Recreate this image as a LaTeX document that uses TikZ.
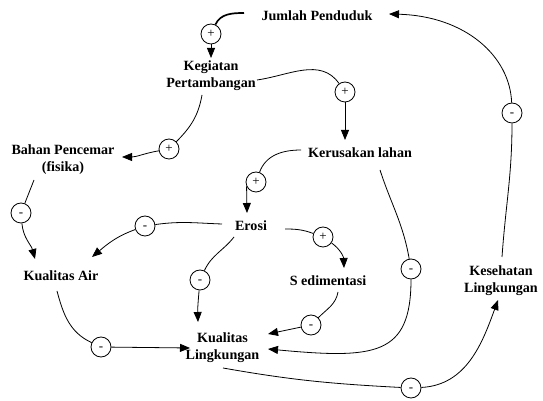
\documentclass[tikz,border=0pt]{standalone}
\usepackage{fontspec}
\setmainfont{Liberation Serif}
\usetikzlibrary{arrows.meta}
\begin{document}
\begin{tikzpicture}[x=1pt,y=1pt,
  lbl/.style={font=\bfseries\fontsize{14.1}{17}\selectfont, align=center, inner sep=2pt},
  pol/.style={circle, draw, line width=0.8pt, minimum size=20pt, inner sep=0pt,
              font=\fontsize{13}{13}\selectfont},
  link/.style={line width=0.8pt},
  arr/.style={line width=0.8pt, -{Triangle[length=10pt,width=8pt]}},
  thicklink/.style={line width=1.7pt}]
\useasboundingbox (0,0) rectangle (543,401);

% variables
\node[lbl] (jp)  at (317,385)   {Jumlah Penduduk};
\node[lbl] (kp)  at (211,325)   {Kegiatan\\Pertambangan};
\node[lbl] (bp)  at (63,241)    {Bahan Pencemar\\(fisika)};
\node[lbl] (kl)  at (360,248)   {Kerusakan lahan};
\node[lbl] (er)  at (251,175)   {Erosi};
\node[lbl] (ka)  at (61,125)    {Kualitas Air};
\node[lbl] (sd)  at (328,120)   {S edimentasi};
\node[lbl] (klg) at (222.5,53)  {Kualitas\\Lingkungan};
\node[lbl] (ks)  at (501,120)   {Kesehatan\\Lingkungan};

% link polarities
\node[pol] (p1) at (211,367) {+};
\node[pol] (p2) at (345,309) {+};
\node[pol] (p3) at (169,252) {+};
\node[pol] (p4) at (256,219) {+};
\node[pol] (p5) at (323,164) {+};
\node[pol] (m1) at (21,188)  {\vphantom{+}-};
\node[pol] (m2) at (145,175) {\vphantom{+}-};
\node[pol] (m3) at (200,121) {\vphantom{+}-};
\node[pol] (m4) at (311,76)  {\vphantom{+}-};
\node[pol] (m5) at (411,132) {\vphantom{+}-};
\node[pol] (m6) at (101,54)  {\vphantom{+}-};
\node[pol] (m7) at (411,13)  {\vphantom{+}-};
\node[pol] (m8) at (512,288) {\vphantom{+}-};

% Jumlah Penduduk -> Kegiatan Pertambangan
\draw[thicklink] ([shift={(-73,3)}]jp.center) to[out=180,in=65] (p1);
\draw[arr] (p1) -- ([shift={(0,18)}]kp.center);

% Kegiatan Pertambangan -> Kerusakan lahan
\draw[link] ([shift={(46,-4)}]kp.center) to[out=8,in=125] (p2);
\draw[arr] (p2) -- ([shift={(-15,13)}]kl.center);

% Kegiatan Pertambangan -> Bahan Pencemar
\draw[link] ([shift={(-9,-19)}]kp.center) to[out=-100,in=45] (p3);
\draw[arr] (p3) to[out=190,in=0] ([shift={(59,3)}]bp.center);

% Kerusakan lahan -> Erosi
\draw[link] ([shift={(-59,3)}]kl.center) to[out=180,in=70] (p4);
\draw[arr] (p4.205) -- ([shift={(-4,13)}]er.center);

% Kerusakan lahan -> Kualitas Lingkungan
\draw[link] ([shift={(20,-17)}]kl.center) to[out=-72,in=100] (m5);
\draw[arr] (m5) .. controls (411,45) and (375,42) .. ([shift={(45.5,-1)}]klg.center);

% Erosi -> Kualitas Air
\draw[link] ([shift={(-29,2)}]er.center) to[out=178,in=8] (m2);
\draw[arr] (m2) to[out=200,in=40] ([shift={(31,19)}]ka.center);

% Erosi -> Kualitas Lingkungan
\draw[link] ([shift={(-17,-11)}]er.center) to[out=-128,in=65] (m3);
\draw[arr] (m3) to[out=-95,in=92] ([shift={(-24.5,26)}]klg.center);

% Erosi -> Sedimentasi
\draw[link] ([shift={(34,-3)}]er.center) to[out=0,in=160] (p5);
\draw[arr] (p5) to[out=-35,in=92] ([shift={(16,13)}]sd.center);

% Sedimentasi -> Kualitas Lingkungan
\draw[link] ([shift={(10,-11)}]sd.center) to[out=-100,in=45] (m4);
\draw[arr] (m4) -- ([shift={(45.5,14)}]klg.center);

% Bahan Pencemar -> Kualitas Air
\draw[link] ([shift={(-29,-20)}]bp.center) -- (m1);
\draw[arr] (m1) to[out=-85,in=105] ([shift={(-26,17)}]ka.center);

% Kualitas Air -> Kualitas Lingkungan
\draw[link] ([shift={(-4,-15)}]ka.center) to[out=-75,in=155] (m6);
\draw[arr] (m6) -- ([shift={(-32.5,0)}]klg.center);

% Kualitas Lingkungan -> Kesehatan Lingkungan
\draw[link] ([shift={(0.5,-20)}]klg.center) to[out=-10,in=177] (m7);
\draw[arr] (m7) to[out=3,in=-110] ([shift={(-3,-19)}]ks.center);

% Kesehatan Lingkungan -> Jumlah Penduduk
\draw[link] ([shift={(1,24)}]ks.center) to[out=86,in=-90] (m8);
\draw[arr] (m8) .. controls (510,345) and (465,385) .. ([shift={(72,2)}]jp.center);
\end{tikzpicture}
\end{document}
